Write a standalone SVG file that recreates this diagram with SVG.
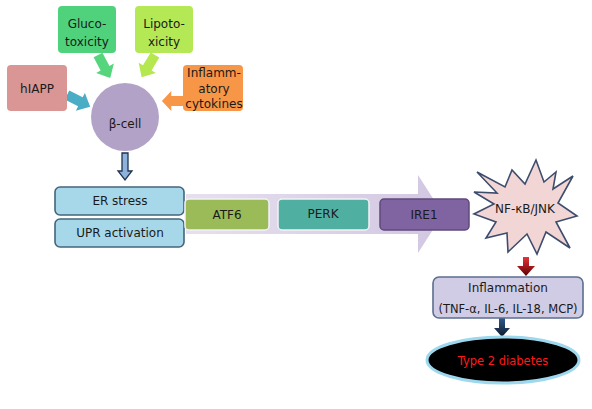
<svg xmlns="http://www.w3.org/2000/svg" width="592" height="409" viewBox="0 0 592 409">
<defs>
<style>
text{font-family:"DejaVu Sans","Verdana",sans-serif;font-size:12px;fill:#1a1a1a;text-anchor:middle}
.box{rx:4;ry:4}
.er{fill:#a6d8ea;stroke:#44657c;stroke-width:1.6}
.onarrow{stroke:#f4f1f8;stroke-width:1.5}
</style>
<path id="blk" d="M0,-5 L15,-5 L15,-10 L26,0 L15,10 L15,5 L0,5 Z"/>
<linearGradient id="redg" x1="0" y1="0" x2="0" y2="1">
<stop offset="0" stop-color="#e8323a"/><stop offset="1" stop-color="#5a0000"/>
</linearGradient>
<linearGradient id="navyg" x1="0" y1="0" x2="0" y2="1">
<stop offset="0" stop-color="#2e5a8c"/><stop offset="1" stop-color="#0d1a2a"/>
</linearGradient>
<linearGradient id="bandg" x1="0" y1="0" x2="1" y2="0">
<stop offset="0" stop-color="#e6e0ee"/><stop offset="1" stop-color="#d2c7e2"/>
</linearGradient>
</defs>

<g id="connectors">
<use href="#blk" fill="#4bacc6" transform="translate(67,95) rotate(27)"/>
<use href="#blk" fill="#55d67c" transform="translate(98,55) rotate(62)"/>
<use href="#blk" fill="#b4e84e" transform="translate(155,55) rotate(121)"/>
<use href="#blk" fill="#f79646" transform="translate(184,101) rotate(180) scale(0.85,1)"/>
<path d="M122,153 L128,153 L128,171 L132,171 L125,180 L118,171 L122,171 Z" fill="#8fb2dc" stroke="#1f3350" stroke-width="1.3"/>
<path d="M186,194 L418,194 L418,175 L443,214 L418,253 L418,234 L186,234 Z" fill="url(#bandg)"/>
<path d="M523,257 L529,257 L529,266 L535,266 L526,276 L517,266 L523,266 Z" fill="url(#redg)"/>
<path d="M499,318 L505,318 L505,328 L510,328 L502,337 L494,328 L499,328 Z" fill="url(#navyg)"/>
</g>

<g id="gluco">
<rect x="58" y="6" width="58" height="47" rx="4" fill="#50d27c"/>
<text x="87" y="28">Gluco-</text>
<text x="87" y="46">toxicity</text>
</g>
<g id="lipo">
<rect x="135" y="6" width="58" height="47" rx="4" fill="#b4e854"/>
<text x="164" y="28">Lipoto-</text>
<text x="164" y="46">xicity</text>
</g>
<g id="hiapp">
<rect x="7" y="65" width="60" height="46" rx="4" fill="#d99694"/>
<text x="37" y="93">hIAPP</text>
</g>
<g id="cytokines">
<rect x="183" y="65" width="60" height="46" rx="4" fill="#f79646"/>
<text x="214" y="77">Inflamm-</text>
<text x="214" y="93">atory</text>
<text x="214" y="108">cytokines</text>
</g>
<g id="betacell">
<circle cx="125" cy="117" r="34" fill="#b3a2c7"/>
<text x="125" y="128">β-cell</text>
</g>

<g id="erstress">
<rect x="55" y="187" width="129" height="28" rx="5" class="er"/>
<text x="120" y="205">ER stress</text>
</g>
<g id="upr">
<rect x="55" y="219" width="129" height="28" rx="5" class="er"/>
<text x="120" y="237">UPR activation</text>
</g>

<g id="atf6">
<rect x="185" y="199" width="84" height="31" rx="4" fill="#9bbb59" class="onarrow"/>
<text x="227" y="219">ATF6</text>
</g>
<g id="perk">
<rect x="278" y="199" width="91" height="31" rx="4" fill="#4fb0a1" class="onarrow"/>
<text x="323" y="218">PERK</text>
</g>
<g id="ire1">
<rect x="380" y="199" width="89" height="31" rx="4" fill="#8064a2" stroke="#5f497a" stroke-width="1.5"/>
<text x="424" y="219">IRE1</text>
</g>

<g id="nfkb">
<path d="M477,172 L505,187 L512,170 L525,184 L536,160 L544,182 L556,172 L553,189 L573,176 L558,203 L577,216 L556,222 L570,248 L546,232 L537,254 L527,234 L508,252 L507,233 L486,238 L496,222 L474,214 L494,204 L474,192 L497,193 Z" fill="#f2d6d6" stroke="#3d4d6e" stroke-width="1.6" stroke-linejoin="miter"/>
<text x="525" y="213">NF-κB/JNK</text>
</g>

<g id="inflammation">
<rect x="433" y="277" width="150" height="41" rx="6" fill="#d0cce6" stroke="#5b6f8f" stroke-width="1.6"/>
<text x="508" y="292">Inflammation</text>
<text x="508" y="313" style="font-size:11.5px">(TNF-α, IL-6, IL-18, MCP)</text>
</g>

<g id="t2d">
<ellipse cx="503" cy="360" rx="76" ry="23" fill="#000" stroke="#9ed8ee" stroke-width="3"/>
<text x="503" y="365" style="fill:#ff1a1a;font-size:11.5px">Type 2 diabetes</text>
</g>
</svg>
